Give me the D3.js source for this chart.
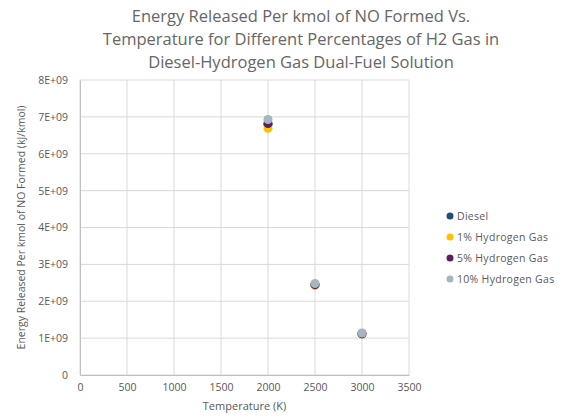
<!DOCTYPE html>
<html>
<head>
<meta charset="utf-8">
<script src="https://cdn.jsdelivr.net/npm/d3@7"></script>
<style>
  body { margin: 0; background: #fff; }
  text { font-family: "Open Sans", sans-serif; fill: #595959; }
</style>
</head>
<body>
<script>
// chart data
var temps = [2000, 2500, 3000];
var seriesNames = ["Diesel", "1% Hydrogen Gas", "5% Hydrogen Gas", "10% Hydrogen Gas"];
var diesel = [6.80e9, 2.45e9, 1.12e9];
var h2_1 = [6.69e9, 2.43e9, 1.11e9];
var h2_5 = [6.82e9, 2.45e9, 1.12e9];
var h2_10 = [6.93e9, 2.48e9, 1.14e9];
var xTicks = [0, 500, 1000, 1500, 2000, 2500, 3000, 3500];
var yTicks = [0, 1e9, 2e9, 3e9, 4e9, 5e9, 6e9, 7e9, 8e9];
var colors = ["#1f4e79", "#ffc000", "#5a1f5e", "#a5b5c1"];

function show_chart(width, height) {
    var svg = d3.select("body").append("svg")
                .attr("width", width)
                .attr("height", height);

    var margin = {left: 80, right: 155, top: 80, bottom: 41};

    var xScale = d3.scaleLinear()
                    .domain([0, 3500])
                    .range([margin.left, width - margin.right]);
    var yScale = d3.scaleLinear()
                    .domain([0, 8e9])
                    .range([height - margin.bottom, margin.top]);

    // title
    var title = ["Energy Released Per kmol of NO Formed Vs.",
                 "Temperature for Different Percentages of H2 Gas in",
                 "Diesel-Hydrogen Gas Dual-Fuel Solution"];
    svg.selectAll(".title")
        .data(title)
        .enter()
        .append("text")
        .attr("class", "title")
        .attr("x", 301)
        .attr("y", function(d, i) { return 22 + i * 23; })
        .attr("text-anchor", "middle")
        .attr("font-size", "16.5px")
        .style("fill", "#666")
        .text(function(d) { return d; });

    // gridlines
    svg.append("g")
        .selectAll("line")
        .data(yTicks)
        .enter()
        .append("line")
        .attr("x1", xScale(0)).attr("x2", xScale(3500))
        .attr("y1", function(d) { return yScale(d); })
        .attr("y2", function(d) { return yScale(d); })
        .attr("stroke", "#d9d9d9");
    svg.append("g")
        .selectAll("line")
        .data(xTicks)
        .enter()
        .append("line")
        .attr("y1", yScale(0)).attr("y2", yScale(8e9))
        .attr("x1", function(d) { return xScale(d); })
        .attr("x2", function(d) { return xScale(d); })
        .attr("stroke", "#d9d9d9");

    // axes
    var xAxis = d3.axisBottom(xScale).tickValues(xTicks).tickSize(0).tickPadding(9)
        .tickFormat(d3.format("d"));
    var gx = svg.append("g")
        .attr("transform", "translate(0," + yScale(0) + ")")
        .call(xAxis);
    gx.select(".domain").attr("stroke", "#bfbfbf");
    gx.selectAll("text").attr("font-size", "10.5px").attr("fill", "#595959")
        .attr("font-family", "Open Sans, sans-serif");

    var yAxis = d3.axisLeft(yScale).tickValues(yTicks).tickSize(0).tickPadding(12)
        .tickFormat(function(d) { return d === 0 ? "0" : (d / 1e9) + "E+09"; });
    var gy = svg.append("g")
        .attr("transform", "translate(" + xScale(0) + ",0)")
        .call(yAxis);
    gy.select(".domain").attr("stroke", "#bfbfbf");
    gy.selectAll("text").attr("font-size", "10.5px").attr("fill", "#595959")
        .attr("font-family", "Open Sans, sans-serif");

    // axis titles
    svg.append("text")
        .attr("x", (xScale(0) + xScale(3500)) / 2)
        .attr("y", height - 6)
        .attr("text-anchor", "middle")
        .attr("font-size", "11px")
        .text("Temperature (K)");
    svg.append("text")
        .attr("transform", "translate(25," + ((yScale(0) + yScale(8e9)) / 2) + ") rotate(-90)")
        .attr("text-anchor", "middle")
        .attr("font-size", "10.5px")
        .text("Energy Released Per kmol of NO Formed (kJ/kmol)");

    // points
    var series = [diesel, h2_1, h2_5, h2_10];
    series.forEach(function(vals, s) {
        svg.append("g")
            .selectAll("circle")
            .data(vals)
            .enter()
            .append("circle")
            .attr("cx", function(d, i) { return xScale(temps[i]); })
            .attr("cy", function(d) { return yScale(d); })
            .attr("r", 4.5)
            .attr("fill", colors[s]);
    });

    // legend
    var legend = svg.append("g");
    seriesNames.forEach(function(name, i) {
        var y = 216 + i * 21;
        legend.append("circle")
            .attr("cx", 450).attr("cy", y).attr("r", 3.5)
            .attr("fill", colors[i]);
        legend.append("text")
            .attr("x", 457).attr("y", y + 3.5)
            .attr("font-size", "10.5px")
            .attr("letter-spacing", "0.3px")
            .text(name);
    });
}

var width = 564;
var height = 416;

document.addEventListener("DOMContentLoaded", function() { show_chart(width, height); });
</script>
</body>
</html>
